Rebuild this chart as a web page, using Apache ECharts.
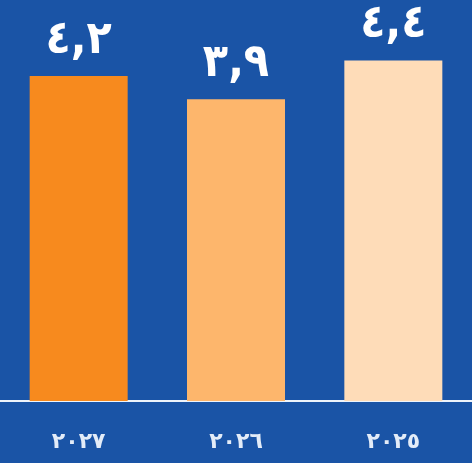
<!DOCTYPE html>
<html>
<head>
<meta charset="utf-8">
<style>
  html, body { margin: 0; padding: 0; background: #1a54a6; }
  #chart { width: 472px; height: 463px; }
</style>
<script src="https://cdn.jsdelivr.net/npm/echarts@6/dist/echarts.min.js"></script>
</head>
<body>
<div id="chart"></div>
<script>
// Years, shown right-to-left
const years = ['٢٠٢٧', '٢٠٢٦', '٢٠٢٥'];
const values = [4.2, 3.9, 4.4];
const valueLabels = ['٤,٢', '٣,٩', '٤,٤'];
const barColors = ['#f78a1e', '#fdb66c', '#fedcb8'];

const chart = echarts.init(document.getElementById('chart'), null, { renderer: 'canvas' });

chart.setOption({
  backgroundColor: '#1a54a6',
  animation: false,
  grid: { left: 0, right: 0, top: 14, bottom: 62, containLabel: false },
  xAxis: {
    type: 'category',
    data: years,
    axisLine: { show: true, lineStyle: { color: '#eef4fb', width: 2 } },
    axisTick: { show: false },
    axisLabel: {
      color: '#e3ecf8',
      fontFamily: 'DejaVu Sans',
      fontSize: 22,
      fontWeight: 'bold',
      margin: 30
    }
  },
  yAxis: {
    type: 'value',
    min: 0,
    max: 5,
    show: false,
    splitLine: { show: false }
  },
  series: [{
    type: 'bar',
    barWidth: 98,
    data: values.map((v, i) => ({ value: v, itemStyle: { color: barColors[i] } })),
    label: {
      show: true,
      position: 'top',
      distance: 12,
      color: '#ffffff',
      fontFamily: 'DejaVu Sans Condensed',
      fontSize: 46,
      fontWeight: 'bold',
      formatter: p => valueLabels[p.dataIndex]
    }
  }]
});
</script>
</body>
</html>
